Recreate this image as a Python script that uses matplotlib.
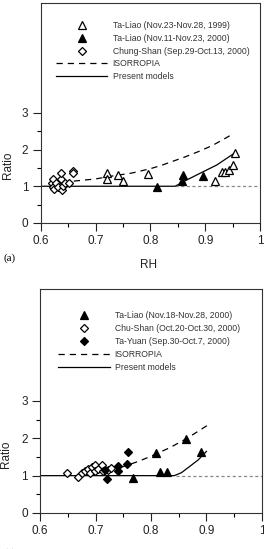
import numpy as np
import matplotlib
matplotlib.use("Agg")
import matplotlib.pyplot as plt
from matplotlib.lines import Line2D

plt.rcParams['font.family'] = ['Liberation Sans', 'DejaVu Sans']

# ---------------- panel (a) data ----------------
a_open_tri_rh = [0.720, 0.721, 0.741, 0.749, 0.796, 0.918, 0.930, 0.936, 0.944, 0.951, 0.954]
a_open_tri_ratio = [1.35, 1.19, 1.31, 1.15, 1.33, 1.15, 1.40, 1.40, 1.44, 1.58, 1.92]

a_fill_tri_rh = [0.811, 0.857, 0.860, 0.896]
a_fill_tri_ratio = [0.99, 1.14, 1.31, 1.29]

a_diam_rh = [0.620, 0.622, 0.622, 0.624, 0.627, 0.632, 0.636, 0.637, 0.638,
             0.641, 0.644, 0.652, 0.658, 0.658]
a_diam_ratio = [1.10, 1.20, 0.97, 0.92, 1.08, 0.97, 1.20, 1.37, 0.90,
                1.02, 1.10, 1.08, 1.41, 1.37]

a_isor_rh = [0.660, 0.700, 0.726, 0.766, 0.800, 0.820, 0.863, 0.890, 0.914, 0.945]
a_isor_ratio = [1.14, 1.20, 1.27, 1.36, 1.48, 1.57, 1.80, 1.96, 2.12, 2.38]

a_model_rh = [0.600, 0.845, 0.866, 0.890, 0.921, 0.955]
a_model_ratio = [1.00, 1.00, 1.17, 1.35, 1.58, 1.92]

a_labels = ['Ta-Liao (Nov.23-Nov.28, 1999)', 'Ta-Liao (Nov.11-Nov.23, 2000)',
            'Chung-Shan (Sep.29-Oct.13, 2000)', 'ISORROPIA', 'Present models']

# ---------------- panel (b) data ----------------
b_fill_tri_rh = [0.768, 0.809, 0.816, 0.828, 0.864, 0.891]
b_fill_tri_ratio = [0.95, 1.62, 1.10, 1.10, 1.99, 1.63]

b_open_diam_rh = [0.648, 0.669, 0.675, 0.681, 0.687, 0.690, 0.693, 0.699, 0.699,
                  0.705, 0.711, 0.714, 0.723, 0.727]
b_open_diam_ratio = [1.06, 0.97, 1.06, 1.13, 1.19, 1.07, 1.23, 1.28, 1.13,
                     1.19, 1.28, 1.13, 1.15, 1.21]

b_fill_diam_rh = [0.717, 0.720, 0.741, 0.741, 0.756, 0.758]
b_fill_diam_ratio = [1.16, 0.90, 1.25, 1.12, 1.31, 1.64]

b_isor_rh = [0.745, 0.775, 0.800, 0.834, 0.865, 0.901]
b_isor_ratio = [1.22, 1.37, 1.52, 1.75, 2.00, 2.34]

b_model_rh = [0.600, 0.842, 0.855, 0.870, 0.885, 0.900]
b_model_ratio = [1.00, 1.00, 1.08, 1.25, 1.42, 1.65]

b_labels = ['Ta-Liao (Nov.18-Nov.28, 2000)', 'Chu-Shan (Oct.20-Oct.30, 2000)',
            'Ta-Yuan (Sep.30-Oct.7, 2000)', 'ISORROPIA', 'Present models']

ref_rh = [0.845, 1.0]
ref_ratio = [1.0, 1.0]

fig = plt.figure(figsize=(2.64, 5.49), dpi=100)
ax_a = fig.add_axes([0.155, 0.594, 0.83, 0.4005])
ax_b = fig.add_axes([0.152, 0.0656, 0.84, 0.408])


def style_axes(ax):
    ax.set_xlim(0.6, 1.0)
    ax.set_ylim(0, 6)
    ax.set_xticks([0.6, 0.7, 0.8, 0.9, 1.0])
    ax.set_xticklabels(['0.6', '0.7', '0.8', '0.9', '1'])
    ax.set_xticks([0.65, 0.75, 0.85, 0.95], minor=True)
    ax.set_yticks([0, 1, 2, 3])
    ax.set_yticks([0.5, 1.5, 2.5], minor=True)
    ax.tick_params(which='major', direction='out', length=6, width=0.8,
                   labelsize=8.5, colors='#222222', pad=3)
    ax.tick_params(which='minor', direction='out', length=3, width=0.8)
    for s in ax.spines.values():
        s.set_linewidth(0.8)
        s.set_color('#333333')
    ax.set_ylabel('Ratio', fontsize=8.5, color='#222222')
    ax.yaxis.set_label_coords(-0.125, 0.26)
    ax.set_xlabel('RH', fontsize=8.5, color='#222222')
    ax.xaxis.set_label_coords(0.49, -0.165)


mk = dict(linestyle='none', markeredgecolor='black', markeredgewidth=0.9)
tri = dict(marker='^', markersize=6, **mk)
dia = dict(marker='D', markersize=4.2, **mk)
dash_kw = dict(color='black', lw=0.9, dashes=(5, 4))
solid_kw = dict(color='black', lw=0.9)
ref_kw = dict(color='#888888', lw=0.9, dashes=(2.5, 2))

# panel (a)
ax = ax_a
ax.plot(ref_rh, ref_ratio, **ref_kw)
ax.plot(a_isor_rh, a_isor_ratio, **dash_kw)
ax.plot(a_model_rh, a_model_ratio, **solid_kw)
ax.plot(a_diam_rh, a_diam_ratio, markerfacecolor='white', **dia)
ax.plot(a_open_tri_rh, a_open_tri_ratio, markerfacecolor='white', **tri)
ax.plot(a_fill_tri_rh, a_fill_tri_ratio, markerfacecolor='black', **tri)
style_axes(ax)
handles = [Line2D([], [], markerfacecolor='white', **tri),
           Line2D([], [], markerfacecolor='black', **tri),
           Line2D([], [], markerfacecolor='white', **dia),
           Line2D([], [], **dash_kw),
           Line2D([], [], **solid_kw)]
ax.legend(handles, a_labels, loc='upper left', bbox_to_anchor=(0.068, 0.92),
          frameon=False, fontsize=6.2, handlelength=6.0, handletextpad=0.6,
          labelspacing=0.46, borderaxespad=0, borderpad=0, labelcolor='#333333')

# panel (b)
ax = ax_b
ax.plot(ref_rh, ref_ratio, **ref_kw)
ax.plot(b_isor_rh, b_isor_ratio, **dash_kw)
ax.plot(b_model_rh, b_model_ratio, **solid_kw)
ax.plot(b_open_diam_rh, b_open_diam_ratio, markerfacecolor='white', **dia)
ax.plot(b_fill_diam_rh, b_fill_diam_ratio, markerfacecolor='black', **dia)
ax.plot(b_fill_tri_rh, b_fill_tri_ratio, markerfacecolor='black', **tri)
style_axes(ax)
handles = [Line2D([], [], markerfacecolor='black', **tri),
           Line2D([], [], markerfacecolor='white', **dia),
           Line2D([], [], markerfacecolor='black', **dia),
           Line2D([], [], **dash_kw),
           Line2D([], [], **solid_kw)]
ax.legend(handles, b_labels, loc='upper left', bbox_to_anchor=(0.08, 0.903),
          frameon=False, fontsize=6.2, handlelength=6.0, handletextpad=0.6,
          labelspacing=0.46, borderaxespad=0, borderpad=0, labelcolor='#333333')

fig.text(0.012, 1 - 258 / 549, '(a)', family='Liberation Serif', fontsize=8,
         va='center', ha='left')
fig.text(0.012, 1 - 553 / 549, '(b)', family='Liberation Serif', fontsize=8,
         va='center', ha='left')

fig.savefig('out.png', dpi=100)
